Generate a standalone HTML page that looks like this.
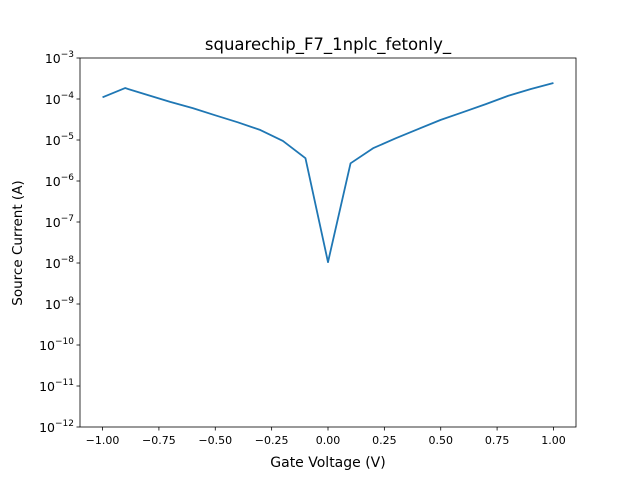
<!DOCTYPE html>
<html><head><meta charset="utf-8"><style>
body{margin:0;background:#fff;}
svg{display:block;font-family:"DejaVu Sans","Liberation Sans",sans-serif;}
</style></head><body>
<svg id="chart" width="640" height="480">
<rect width="640" height="480" fill="#fff"/>
<text x="328" y="50" text-anchor="middle" font-size="16.5">squarechip_F7_1nplc_fetonly_</text>
<text x="328" y="467" text-anchor="middle" font-size="14">Gate Voltage (V)</text>
<text transform="translate(22,243) rotate(-90)" text-anchor="middle" font-size="13.5">Source Current (A)</text>
<g id="g"></g>
</svg>
<script>
const xs=[-1.0,-0.9,-0.8,-0.7,-0.6,-0.5,-0.4,-0.3,-0.2,-0.1,0.0,0.1,0.2,0.3,0.4,0.5,0.6,0.7,0.8,0.9,1.0];
const current=[1.1e-4,1.85e-4,1.25e-4,8.5e-5,6e-5,4e-5,2.7e-5,1.75e-5,9.5e-6,3.6e-6,1.05e-8,2.7e-6,6.3e-6,1.1e-5,1.85e-5,3.1e-5,4.8e-5,7.5e-5,1.2e-4,1.75e-4,2.45e-4];
const xTicks=[-1.0,-0.75,-0.5,-0.25,0.0,0.25,0.5,0.75,1.0];
const xTickLabels=["−1.00","−0.75","−0.50","−0.25","0.00","0.25","0.50","0.75","1.00"];
const yExps=[-12,-11,-10,-9,-8,-7,-6,-5,-4,-3];
const L=80,R=576,T=58,B=427;
const X=v=>L+(v+1.1)/2.2*(R-L);
const Y=v=>B-(Math.log10(v)+12)/9*(B-T);
const g=document.getElementById('g');const NS='http://www.w3.org/2000/svg';
function mk(t,a,txt){const e=document.createElementNS(NS,t);for(const k in a)e.setAttribute(k,a[k]);if(txt!=null)e.textContent=txt;g.appendChild(e);return e;}
xTicks.forEach((v,i)=>{const x=X(v);
const t=mk('line',{x1:x,x2:x,y1:B,y2:B+3.5,stroke:'#000','stroke-width':0.8});


const l=mk('text',{x:x,y:B+17,'text-anchor':'middle','font-size':11},xTickLabels[i]);

});
yExps.forEach(e=>{const y=Y(Math.pow(10,e));
const t=mk('line',{x1:L-3.5,x2:L,y1:y,y2:y,stroke:'#000','stroke-width':0.8});


const l=mk('text',{x:L-6,y:y+5,'text-anchor':'end','font-size':12.5});


const a=document.createElementNS(NS,'tspan');a.textContent='10';l.appendChild(a);
const b=document.createElementNS(NS,'tspan');b.textContent='−'+(-e);b.setAttribute('dy','-6');b.setAttribute('font-size','9');l.appendChild(b);});
const p=mk('polyline',{points:xs.map((v,i)=>X(v)+','+Y(current[i])).join(' '),fill:'none',stroke:'#1f77b4','stroke-width':1.8,'stroke-linejoin':'round'});


const f=mk('rect',{x:L,y:T,width:R-L,height:B-T,fill:'none',stroke:'#000','stroke-width':0.8});


</script>
</body></html>
